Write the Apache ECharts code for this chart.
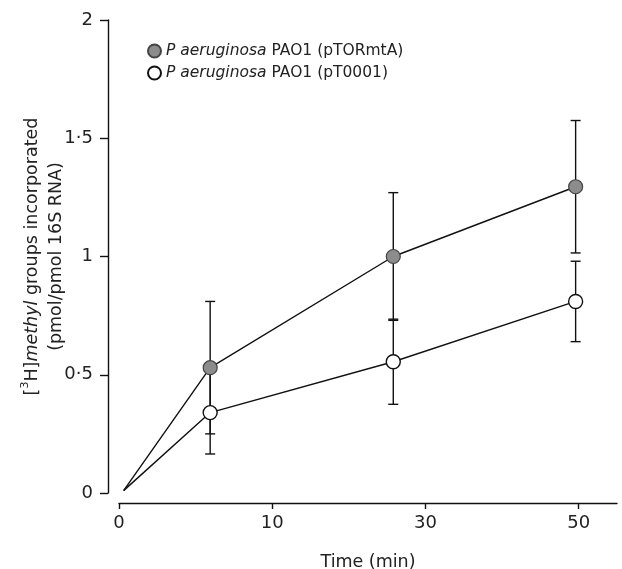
<!DOCTYPE html>
<html><head><meta charset="utf-8">
<script src="https://cdn.jsdelivr.net/npm/echarts@6/dist/echarts.min.js"></script>
<style>html,body{margin:0;padding:0;background:#fff}#c{width:622px;height:569px}</style>
</head><body><div id="c"></div>
<script>
// x positions are in axis "slot" units: the axis is drawn with evenly spaced ticks labelled 0,10,30,50
const tickPositions = [0, 1, 2, 3];
const tickLabels = ['0', '10', '30', '50'];
const xPos = [0.03, 0.595, 1.79, 2.98];          // origin, then three sampling times
const filledMean = [0.01, 0.53, 1.0, 1.295];
const filledErr  = [null, 0.28, 0.27, 0.28];
const openMean   = [0.01, 0.34, 0.555, 0.81];
const openErr    = [null, 0.175, 0.18, 0.17];
const nameFilled = 'P aeruginosa PAO1 (pTORmtA)';
const nameOpen   = 'P aeruginosa PAO1 (pT0001)';

const font = 'DejaVu Sans';
const lineData = (m) => m.map((v, i) => i === 0
  ? { value: [xPos[i], v], symbol: 'none' }
  : { value: [xPos[i], v] });
const errData = (m, e) => m.map((v, i) => [xPos[i], v, e[i]]).filter(d => d[2] != null);

function errRender(params, api) {
  const x = api.value(0), y = api.value(1), e = api.value(2);
  const hi = api.coord([x, y + e]), lo = api.coord([x, y - e]);
  const w = 5;
  const st = { stroke: '#111', lineWidth: 1.4 };
  return { type: 'group', children: [
    { type: 'line', shape: { x1: hi[0], y1: hi[1], x2: lo[0], y2: lo[1] }, style: st },
    { type: 'line', shape: { x1: hi[0] - w, y1: hi[1], x2: hi[0] + w, y2: hi[1] }, style: st },
    { type: 'line', shape: { x1: lo[0] - w, y1: lo[1], x2: lo[0] + w, y2: lo[1] }, style: st }
  ]};
}

const chart = echarts.init(document.getElementById('c'));
chart.setOption({
  animation: false,
  backgroundColor: '#fff',
  textStyle: { fontFamily: font },
  grid: { left: 119, right: 5, top: 20, bottom: 76, containLabel: false, outerBoundsMode: 'none' },
  legend: {
    orient: 'vertical', left: 142, top: 38, itemGap: 6,
    itemWidth: 13, itemHeight: 13, icon: 'circle',
    data: [nameFilled, nameOpen],
    formatter: (n) => '{i|P aeruginosa}' + n.replace('P aeruginosa', ''),
    textStyle: { fontFamily: font, fontSize: 15.5, color: '#222',
      rich: { i: { fontStyle: 'italic', fontFamily: font, fontSize: 15.5, color: '#222' } } }
  },
  xAxis: {
    type: 'value', min: 0, max: 3.25, interval: 1, offset: 10,
    splitLine: { show: false },
    axisLine: { onZero: false, lineStyle: { color: '#111', width: 1.4 } },
    axisTick: { show: true, length: 6, customValues: tickPositions, lineStyle: { color: '#111', width: 1.4 } },
    axisLabel: { customValues: tickPositions, formatter: (v) => tickLabels[tickPositions.indexOf(v)] || '',
      fontSize: 18, color: '#222', margin: 11, fontFamily: font },
    name: 'Time (min)', nameLocation: 'middle', nameGap: 50, nameMoveOverlap: false,
    nameTextStyle: { fontSize: 17.5, color: '#222', fontFamily: font }
  },
  yAxis: {
    type: 'value', min: 0, max: 2, interval: 0.5, offset: 11,
    splitLine: { show: false },
    axisLine: { show: true, onZero: false, lineStyle: { color: '#111', width: 1.4 } },
    axisTick: { show: true, length: 8, lineStyle: { color: '#111', width: 1.4 } },
    axisLabel: { formatter: (v) => String(v).replace('.', '·'), fontSize: 18, color: '#222', margin: 15, fontFamily: font },
    name: '{n|[}{s|3}{n|H]}{i|methyl}{n| groups incorporated}\n{n|(pmol/pmol 16S RNA)}',
    nameLocation: 'middle', nameGap: 40, nameRotate: 90, nameMoveOverlap: false,
    nameTextStyle: { fontSize: 17.5, color: '#222', fontFamily: font, lineHeight: 24, align: 'center',
      rich: {
        n: { fontSize: 17.5, color: '#222', fontFamily: font, lineHeight: 24 },
        i: { fontSize: 17.5, color: '#222', fontFamily: font, fontStyle: 'italic', lineHeight: 24 },
        s: { fontSize: 11, color: '#222', fontFamily: font, verticalAlign: 'top', lineHeight: 24, padding: [0, 0, 8, 0] }
      } }
  },
  series: [
    { type: 'custom', name: 'errFilled', renderItem: errRender, data: errData(filledMean, filledErr), z: 1, silent: true },
    { type: 'custom', name: 'errOpen', renderItem: errRender, data: errData(openMean, openErr), z: 1, silent: true },
    { type: 'line', name: nameFilled, data: lineData(filledMean), symbol: 'circle', symbolSize: 14, z: 3,
      lineStyle: { color: '#111', width: 1.4 },
      itemStyle: { color: '#8c8c8c', borderColor: '#444', borderWidth: 1.2 } },
    { type: 'line', name: nameOpen, data: lineData(openMean), symbol: 'circle', symbolSize: 14, z: 3,
      lineStyle: { color: '#111', width: 1.4 },
      itemStyle: { color: '#fff', borderColor: '#111', borderWidth: 1.4 } }
  ]
});
</script></body></html>
